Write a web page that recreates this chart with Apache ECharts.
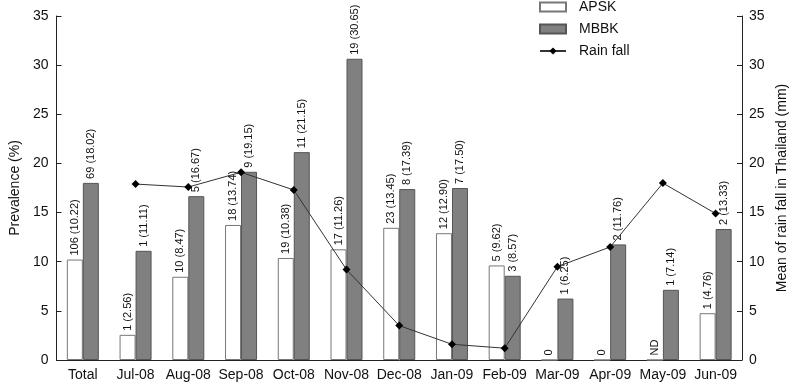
<!DOCTYPE html>
<html>
<head>
<meta charset="utf-8">
<script src="https://cdn.jsdelivr.net/npm/echarts@6/dist/echarts.min.js"></script>
<style>html,body{margin:0;padding:0;background:#fff;}#c{width:798px;height:389px;}</style>
</head>
<body>
<div id="c"></div>
<script>
const categories = ['Total','Jul-08','Aug-08','Sep-08','Oct-08','Nov-08','Dec-08','Jan-09','Feb-09','Mar-09','Apr-09','May-09','Jun-09'];
const apskPct = [10.22, 2.56, 8.47, 13.74, 10.38, 11.26, 13.45, 12.90, 9.62, 0, 0, null, 4.76];
const apskN   = ['106','1','10','18','19','17','23','12','5','0','0','ND','1'];
const mbbkPct = [18.02, 11.11, 16.67, 19.15, 21.15, 30.65, 17.39, 17.50, 8.57, 6.25, 11.76, 7.14, 13.33];
const mbbkN   = ['69','1','5','9','11','19','8','7','3','1','2','1','2'];
const rainfall = [null, 17.9, 17.6, 19.1, 17.3, 9.2, 3.5, 1.6, 1.2, 9.5, 11.5, 18.0, 14.9];
const yTicks = [0,5,10,15,20,25,30,35];

const FONT = '"Liberation Sans", Arial, Helvetica, sans-serif';

function labelText(n, v){
  if (v === null || v === 0) return n;
  return n + ' (' + v.toFixed(2) + ')';
}

const barLabel = {
  show: true, position: 'top', rotate: 90, align: 'left', verticalAlign: 'middle',
  distance: 4, fontSize: 11, color: '#111', fontFamily: FONT
};

const chart = echarts.init(document.getElementById('c'), null, {renderer: 'canvas'});
chart.setOption({
  animation: false,
  backgroundColor: '#fff',
  textStyle: {fontFamily: FONT},
  grid: {left: 53, right: 56, top: 16, bottom: 29},
  legend: {
    orient: 'vertical', left: 539, top: 0, padding: 0, itemWidth: 26, itemHeight: 9, itemGap: 8,
    textStyle: {fontSize: 14, color: '#111', fontFamily: FONT, padding: [0,0,0,8]},
    data: [{name: 'APSK', icon: 'rect'}, {name: 'MBBK', icon: 'rect'}, {name: 'Rain fall'}]
  },
  xAxis: {
    type: 'category', data: categories,
    axisLine: {lineStyle: {color: '#222', width: 1}},
    axisTick: {inside: true, length: 5, lineStyle: {color: '#222'}},
    axisLabel: {fontSize: 14, color: '#111', margin: 8, interval: 0, fontFamily: FONT}
  },
  yAxis: [
    {
      type: 'value', min: yTicks[0], max: yTicks[yTicks.length-1], interval: 5,
      name: 'Prevalence (%)', nameLocation: 'middle', nameRotate: 90, nameGap: 33,
      nameTextStyle: {fontSize: 14, color: '#111', fontFamily: FONT},
      axisLine: {show: true, lineStyle: {color: '#222'}},
      axisTick: {show: true, inside: true, length: 5, lineStyle: {color: '#222'}},
      axisLabel: {fontSize: 14, color: '#111', margin: 8, fontFamily: FONT},
      splitLine: {show: false}
    },
    {
      type: 'value', min: yTicks[0], max: yTicks[yTicks.length-1], interval: 5, position: 'right',
      name: 'Mean of rain fall in Thailand (mm)', nameLocation: 'middle', nameRotate: 90, nameGap: 33,
      nameTextStyle: {fontSize: 14, color: '#111', fontFamily: FONT},
      axisLine: {show: true, lineStyle: {color: '#222'}},
      axisTick: {show: true, inside: true, length: 5, lineStyle: {color: '#222'}},
      axisLabel: {fontSize: 14, color: '#111', margin: 7, fontFamily: FONT},
      splitLine: {show: false}
    }
  ],
  series: [
    {
      name: 'APSK', type: 'bar', barWidth: 16, barGap: '0%',
      itemStyle: {color: '#ffffff', borderColor: '#777', borderWidth: 1},
      label: Object.assign({}, barLabel, {formatter: p => labelText(apskN[p.dataIndex], apskPct[p.dataIndex])}),
      data: apskPct.map(v => v === null ? 0 : v)
    },
    {
      name: 'MBBK', type: 'bar', barWidth: 16, barGap: '0%',
      itemStyle: {color: '#808080', borderColor: '#555', borderWidth: 1},
      label: Object.assign({}, barLabel, {formatter: p => labelText(mbbkN[p.dataIndex], mbbkPct[p.dataIndex])}),
      data: mbbkPct
    },
    {
      name: 'Rain fall', type: 'line', yAxisIndex: 1,
      symbol: 'diamond', symbolSize: 8,
      itemStyle: {color: '#000'},
      lineStyle: {color: '#333', width: 1},
      data: rainfall.map(v => v === null ? '-' : v),
      z: 5
    }
  ]
});
</script>
</body>
</html>
